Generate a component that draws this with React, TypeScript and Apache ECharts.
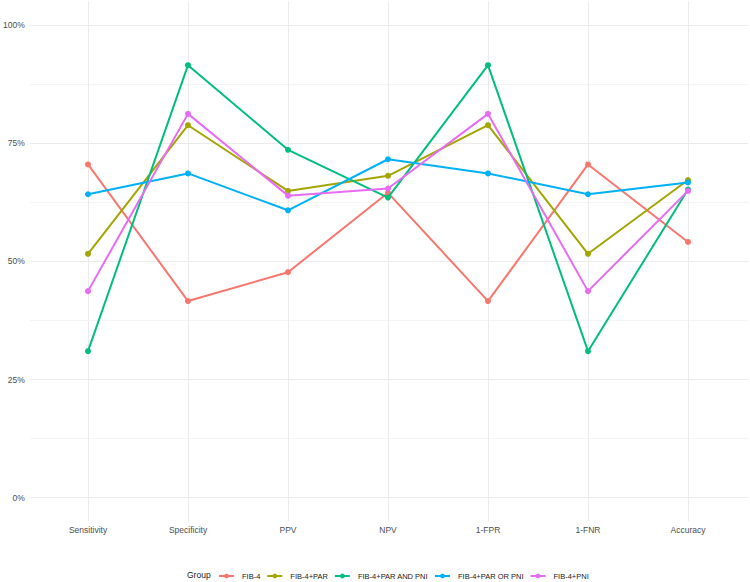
import React, { useEffect, useRef } from "react";
import * as echarts from "echarts";

// Diagnostic metrics per FIB-4 combination (percent)
const metrics = ["Sensitivity", "Specificity", "PPV", "NPV", "1-FPR", "1-FNR", "Accuracy"];
const groups = ["FIB-4", "FIB-4+PAR", "FIB-4+PAR AND PNI", "FIB-4+PAR OR PNI", "FIB-4+PNI"];

const fib4 = [70.5, 41.6, 47.7, 64.5, 41.6, 70.5, 54.1];
const fib4Par = [51.6, 78.8, 64.9, 68.1, 78.8, 51.6, 67.2];
const fib4ParAndPni = [31.0, 91.5, 73.6, 63.5, 91.5, 31.0, 65.2];
const fib4ParOrPni = [64.2, 68.6, 60.8, 71.6, 68.6, 64.2, 66.7];
const fib4Pni = [43.7, 81.2, 63.9, 65.4, 81.2, 43.7, 64.9];

const yTicks = [0, 25, 50, 75, 100];

const seriesValues = [fib4, fib4Par, fib4ParAndPni, fib4ParOrPni, fib4Pni];
const palette = ["#F8766D", "#A3A500", "#00BF7D", "#00B0F6", "#E76BF3"];

const FONT = "Liberation Sans, Arial, Helvetica, sans-serif";
const TEXT = "#4D4D4D";
const GRID = "#EBEBEB";

export default function App() {
  const ref = useRef<HTMLDivElement>(null);

  useEffect(() => {
    if (!ref.current) return;
    const chart = echarts.init(ref.current, null, { renderer: "svg" });

    // pixel layout of the panel: 0% at 497.7, 100% at 25, panel spans -5%..105%
    const zeroY = 497.7;
    const fullY = 25;
    const pxPer = (zeroY - fullY) / 100;
    const panelTop = fullY - 5 * pxPer;
    const panelH = 110 * pxPer;

    chart.setOption({
      animation: false,
      backgroundColor: "#FFFFFF",
      textStyle: { fontFamily: FONT },
      grid: [
        // horizontal gridlines + y labels
        { left: 28, width: 720, top: fullY, height: zeroY - fullY, containLabel: false },
        // data panel with category positions
        { left: 88, width: 600, top: panelTop, height: panelH, containLabel: false },
      ],
      xAxis: [
        { type: "value", gridIndex: 0, show: false, min: 0, max: 1 },
        {
          type: "category",
          gridIndex: 1,
          data: metrics,
          boundaryGap: false,
          axisLine: { show: false },
          axisTick: { show: false },
          axisLabel: { color: TEXT, fontSize: 8.5, margin: 4, fontFamily: FONT },
          splitLine: { show: true, lineStyle: { color: GRID, width: 1 } },
        },
      ],
      yAxis: [
        {
          type: "value",
          gridIndex: 0,
          min: yTicks[0],
          max: yTicks[yTicks.length - 1],
          interval: 25,
          axisLine: { show: false },
          axisTick: { show: false },
          axisLabel: {
            color: TEXT,
            fontSize: 8.5,
            margin: 5,
            fontFamily: FONT,
            formatter: (v: number) => `${v}%`,
          },
          splitLine: { show: true, lineStyle: { color: GRID, width: 1 } },
          minorTick: { show: false, splitNumber: 2 },
          minorSplitLine: { show: true, lineStyle: { color: "#F4F4F4", width: 1 } },
        },
        {
          type: "value",
          gridIndex: 1,
          min: -5,
          max: 105,
          show: false,
          splitLine: { show: false },
        },
      ],
      legend: {
        data: groups,
        left: 218,
        top: 572,
        padding: 0,
        orient: "horizontal",
        itemWidth: 15,
        itemHeight: 6,
        itemGap: 6,
        textStyle: { color: "#1A1A1A", fontSize: 7.5, fontFamily: FONT, padding: [0, 0, 0, 3] },
      },
      graphic: [
        {
          type: "text",
          left: 187,
          top: 570.5,
          style: { text: "Group", fill: "#1A1A1A", font: `8.5px ${FONT}` },
        },
      ],
      series: groups.map((name, i) => ({
        name,
        type: "line",
        xAxisIndex: 1,
        yAxisIndex: 1,
        data: seriesValues[i],
        color: palette[i],
        symbol: "circle",
        symbolSize: 6,
        showSymbol: true,
        lineStyle: { width: 2, color: palette[i] },
        itemStyle: { color: palette[i] },
        z: 2 + i,
      })),
    });

    return () => chart.dispose();
  }, []);

  return (
    <div
      ref={ref}
      style={{ position: "fixed", left: 0, top: 0, width: 750, height: 582, background: "#fff" }}
    />
  );
}
